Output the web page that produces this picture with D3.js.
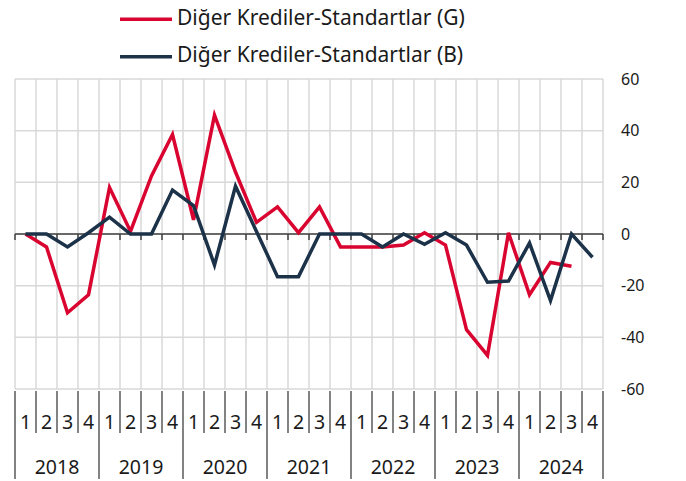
<!DOCTYPE html>
<html><head><meta charset="utf-8">
<script src="https://cdn.jsdelivr.net/npm/d3@7"></script>
<style>body{margin:0;background:#fff}svg{display:block}text{font-family:"Noto Sans","Open Sans",sans-serif;fill:#1a1a1a}</style>
</head><body>
<script>
const years = ["2018","2019","2020","2021","2022","2023","2024"];
const quarters = ["1","2","3","4"];
const seriesNames = ["Diğer Krediler-Standartlar (G)","Diğer Krediler-Standartlar (B)"];
const seriesG = [0,-5,-30.5,-23.5,18,1,22.5,38.5,5.5,46,24,4.5,10.5,0.5,10.5,-5,-5,-5,-4.3,0.5,-4.3,-37,-47,0.5,-23.5,-11,-12.5,null];
const seriesB = [0,0,-5,0.5,6.5,0,0,17,11,-12,18.5,1,-16.5,-16.5,0,0,0,-5,0,-4,0.5,-4.3,-18.7,-18.2,-3.5,-25.8,0,-9];
const yTicks = [60,40,20,0,-20,-40,-60];
const colors = ["#d9042f","#1c3249"];

const W=686,H=481;
const cats=[]; years.forEach(y=>quarters.forEach(q=>cats.push(y+"-"+q)));
const svg=d3.select("body").append("svg").attr("width",W).attr("height",H);
const x=d3.scaleBand().domain(cats).range([15,603]);
const y=d3.scaleLinear().domain([-60,60]).range([389,79]);

// grid
const g=svg.append("g");
g.selectAll(".hg").data(yTicks).join("line").attr("x1",15).attr("x2",603)
 .attr("y1",d=>y(d)).attr("y2",d=>y(d)).attr("stroke","#d9d9d9").attr("stroke-width",1.5);
const bounds=cats.map(c=>x(c)).concat([x.range()[1]]);
g.selectAll(".vg").data(bounds).join("line").attr("x1",d=>d).attr("x2",d=>d)
 .attr("y1",79).attr("y2",389).attr("stroke","#d9d9d9").attr("stroke-width",1.5);

// zero axis with ticks
svg.append("line").attr("x1",15).attr("x2",603).attr("y1",y(0)).attr("y2",y(0)).attr("stroke","#404040").attr("stroke-width",1.5);
svg.selectAll(".zt").data(bounds).join("line").attr("x1",d=>d).attr("x2",d=>d)
 .attr("y1",y(0)).attr("y2",y(0)+6).attr("stroke","#404040").attr("stroke-width",1.5);

// right axis labels
svg.selectAll(".yl").data(yTicks).join("text").attr("x",621).attr("y",d=>y(d)).attr("dy","0.35em")
 .attr("font-size",16).text(d=>d);

// category axis
svg.selectAll(".qs").data(bounds).join("line").attr("x1",d=>d).attr("x2",d=>d)
 .attr("y1",391).attr("y2",(d,i)=>i%4===0?479:433).attr("stroke","#404040").attr("stroke-width",1.3);
svg.selectAll(".ql").data(cats).join("text").attr("x",d=>x(d)+x.bandwidth()/2).attr("y",428.5)
 .attr("text-anchor","middle").attr("font-size",19.5).text(d=>d.split("-")[1]);
svg.selectAll(".yrl").data(years).join("text").attr("x",d=>x(d+"-1")+x.bandwidth()*2).attr("y",474)
 .attr("text-anchor","middle").attr("font-size",19.5).text(d=>d);

// lines
const line=d3.line().defined(d=>d.v!=null).x(d=>x(d.c)+x.bandwidth()/2).y(d=>y(d.v));
[seriesG,seriesB].forEach((s,i)=>{
  const data=s.map((v,j)=>({c:cats[j],v}));
  svg.append("path").datum(data).attr("d",line).attr("fill","none").attr("stroke",colors[i]).attr("stroke-width",3.5).attr("stroke-linejoin","miter");
});

// legend
seriesNames.forEach((n,i)=>{
  const ly=[19.3,56.7][i];
  svg.append("line").attr("x1",120).attr("x2",172).attr("y1",ly).attr("y2",ly).attr("stroke",colors[i]).attr("stroke-width",3.5);
  svg.append("text").attr("x",177).attr("y",[25,61.7][i]).attr("font-size",21).text(n);
});
</script>
</body></html>
